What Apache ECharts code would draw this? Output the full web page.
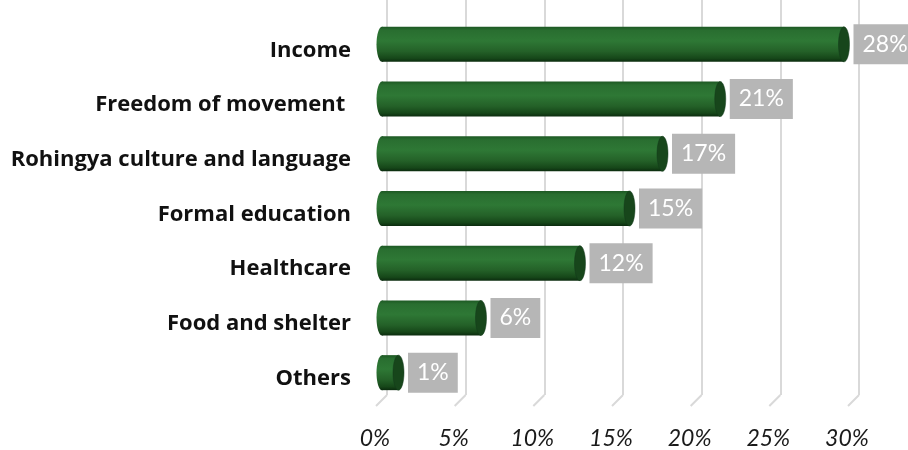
<!DOCTYPE html>
<html><head><meta charset="utf-8">
<script src="https://cdn.jsdelivr.net/npm/echarts@6/dist/echarts.min.js"></script>
<style>html,body{margin:0;padding:0;background:#fff}#c{width:908px;height:450px}</style>
</head><body><div id="c"></div>
<script>
const categories = ['Income','Freedom of movement ','Rohingya culture and language','Formal education','Healthcare','Food and shelter','Others'];
const values = [28, 20.5, 17, 15, 12, 6, 1];
const ticks = [0, 5, 10, 15, 20, 25, 30];
const tickLabels = ['0%','5%','10%','15%','20%','25%','30%'];

const chart = echarts.init(document.getElementById('c'), null, {renderer:'canvas'});
const bodyGrad = new echarts.graphic.LinearGradient(0,0,0,1,[
  {offset:0, color:'#1d5823'},
  {offset:0.1, color:'#296e30'},
  {offset:0.4, color:'#2e7835'},
  {offset:0.7, color:'#246128'},
  {offset:0.9, color:'#164719'},
  {offset:1, color:'#0b2b0e'}
]);
const option = {
  animation:false,
  grid:[
    {left:387, right:49, top:0, bottom:55},
    {left:382, right:31, top:17, bottom:50},
    {left:375, right:61, top:0, bottom:30},
    {left:382, right:31, top:23, bottom:44}
  ],
  xAxis:[
    {gridIndex:0, type:'value', min:0, max:30, interval:5, axisLine:{show:false}, axisTick:{show:false}, axisLabel:{show:false},
     splitLine:{show:true, lineStyle:{color:'#d9d9d9', width:2}}},
    {gridIndex:1, type:'value', min:0, max:30, show:false},
    {gridIndex:2, type:'value', min:0, max:30, interval:5, axisLine:{show:false}, axisTick:{show:false}, splitLine:{show:false},
     axisLabel:{show:true, margin:7, fontFamily:'Lato', fontStyle:'italic', fontSize:23, color:'#1a1a1a',
       formatter:(v)=>tickLabels[ticks.indexOf(v)]}},
    {gridIndex:3, type:'value', min:0, max:30, show:false}
  ],
  yAxis:[
    {gridIndex:0, type:'value', min:0, max:1, show:false},
    {gridIndex:1, type:'category', inverse:true, data:categories, show:false},
    {gridIndex:2, type:'value', show:false},
    {gridIndex:3, type:'category', inverse:true, data:categories, axisLine:{show:false}, axisTick:{show:false}, splitLine:{show:false},
     axisLabel:{margin:31, fontFamily:'Open Sans', fontWeight:'bold', fontSize:22, color:'#111'}}
  ],
  series:[
    {type:'custom', xAxisIndex:0, yAxisIndex:0, data:ticks.map(t=>[t,0]), silent:true,
     renderItem:(params, api)=>{
       const p = api.coord([api.value(0), 0]);
       return {type:'line', shape:{x1:p[0], y1:p[1], x2:p[0]-11, y2:p[1]+11}, style:{stroke:'#d9d9d9', lineWidth:2}};
     }},
    {type:'custom', xAxisIndex:1, yAxisIndex:1, data:values.map((v,i)=>[v,i]), encode:{x:0, y:1}, clip:false,
     renderItem:(params, api)=>{
       const v = api.value(0), c = api.value(1);
       const p0 = api.coord([0, c]);
       const p1 = api.coord([v, c]);
       const h = api.size([0,1])[1]*0.64;
       const rx = 5.5, ry = h/2, cy = p0[1];
       return {type:'group', children:[
         {type:'ellipse', shape:{cx:p0[0], cy:cy, rx:rx, ry:ry}, style:{fill:bodyGrad}},
         {type:'rect', shape:{x:p0[0], y:cy-ry, width:p1[0]-p0[0], height:h}, style:{fill:bodyGrad}},
         {type:'ellipse', shape:{cx:p1[0], cy:cy, rx:rx, ry:ry}, style:{fill:'#17461b', stroke:'#12391a', lineWidth:0.5}},
         {type:'text', style:{text:Math.round(v)+'%', x:p1[0]+rx+4, y:cy, align:'left', verticalAlign:'middle',
            fontFamily:'Lato', fontSize:23, lineHeight:26, fill:'#ffffff', backgroundColor:'#b6b6b6', padding:[7,9,7,9]}}
       ]};
     }}
  ]
};
chart.setOption(option);
</script></body></html>
